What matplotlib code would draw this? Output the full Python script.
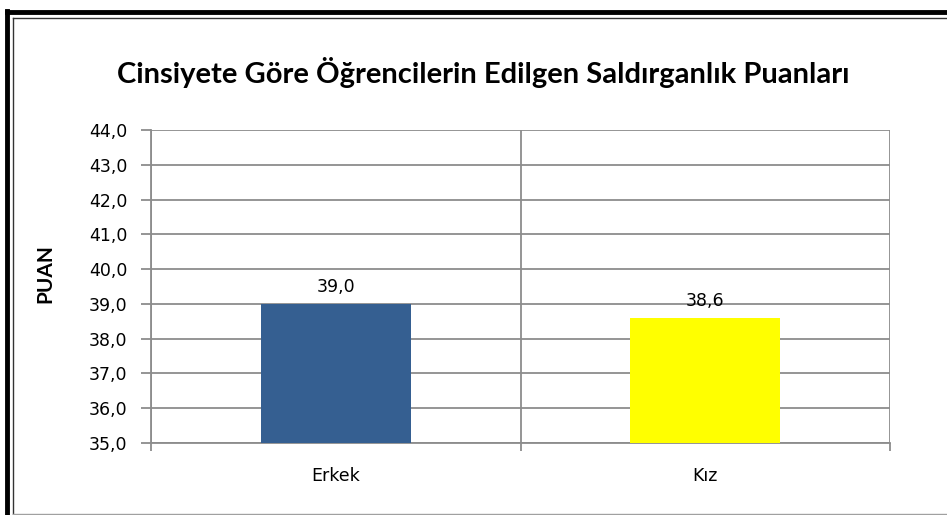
import matplotlib

matplotlib.use("Agg")
import matplotlib.pyplot as plt
from matplotlib.lines import Line2D

plt.rcParams["font.family"] = "DejaVu Sans"

categories = ["Erkek", "Kız"]
values = [39.0, 38.6]
colors = ["#355F91", "#FFFF00"]
yticks = [35.0, 36.0, 37.0, 38.0, 39.0, 40.0, 41.0, 42.0, 43.0, 44.0]

W, H = 947, 515
fig = plt.figure(figsize=(W / 100, H / 100), dpi=100)
ax = fig.add_axes([151 / W, 1 - 443 / H, (890 - 151) / W, (443 - 130) / H])

x = range(len(categories))
ax.bar(x, [v - yticks[0] for v in values], bottom=yticks[0], width=0.406,
       color=colors, zorder=3)
for xi, v in zip(x, values):
    ax.text(xi, v + 0.22, f"{v:.1f}".replace(".", ","), ha="center", va="bottom",
            fontsize=12.5, color="#000000", zorder=4)

ax.set_xlim(-0.5, len(categories) - 0.5)
ax.set_ylim(yticks[0], yticks[-1])
ax.set_yticks(yticks)
ax.set_yticklabels([f"{t:.1f}".replace(".", ",") for t in yticks], fontsize=12.5)
ax.set_xticks(list(x))
ax.set_xticklabels(categories, fontsize=12.5)
ax.set_xticks([i - 0.5 for i in range(len(categories) + 1)], minor=True)
ax.tick_params(axis="x", which="major", length=0, pad=17)
ax.tick_params(axis="x", which="minor", length=6, width=1.3, color="#8c8c8c")
ax.tick_params(axis="y", length=7, width=1.3, color="#8c8c8c", pad=10)

ax.grid(axis="y", color="#8c8c8c", linewidth=1.3, zorder=1)
ax.grid(axis="x", which="minor", color="#8c8c8c", linewidth=1.3, zorder=1)
for s in ax.spines.values():
    s.set_color("#8c8c8c")
    s.set_linewidth(1.3)
ax.spines["top"].set_visible(False)
ax.spines["right"].set_visible(False)

fig.text(45 / W, 1 - 274 / H, "PUAN", rotation=90, ha="center", va="center",
         fontsize=15, fontweight="bold", family="Lato")
fig.text(483 / W, 1 - 72 / H, "Cinsiyete Göre Öğrencilerin Edilgen Saldırganlık Puanları",
         ha="center", va="center", fontsize=21, fontweight="bold", family="Lato")

# cerceve
fig.add_artist(Line2D([7 / W, 1], [1 - 12 / H] * 2, color="black", lw=3.5))
fig.add_artist(Line2D([7 / W] * 2, [1 - 10.5 / H, 0], color="black", lw=3.5))
fig.add_artist(Line2D([13 / W, 1], [1 - 17.5 / H] * 2, color="#333333", lw=1))
fig.add_artist(Line2D([13 / W] * 2, [1 - 17.5 / H, 0], color="#333333", lw=1))
fig.add_artist(Line2D([13 / W, 1], [1.5 / H] * 2, color="#a0a0a0", lw=1))

fig.savefig("out.png", dpi=100)
